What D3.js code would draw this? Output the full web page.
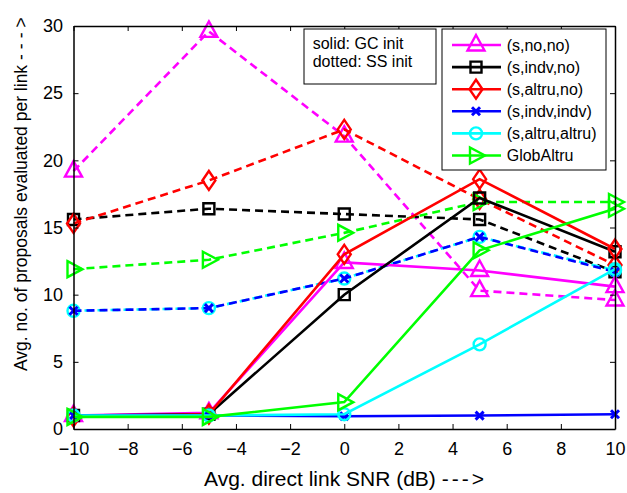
<!DOCTYPE html>
<html>
<head>
<meta charset="utf-8">
<script src="https://cdn.jsdelivr.net/npm/d3@7"></script>
<style>
  body { margin: 0; background: #fff; }
  text { font-family: "Liberation Sans", Arial, sans-serif; }
</style>
</head>
<body>
<div class="canvas"></div>
<script>
// data
const snr = [-10, -5, 0, 5, 10];
const xTicks = [-10, -8, -6, -4, -2, 0, 2, 4, 6, 8, 10];
const yTicks = [0, 5, 10, 15, 20, 25, 30];
const seriesNames = ['(s,no,no)', '(s,indv,no)', '(s,altru,no)', '(s,indv,indv)', '(s,altru,altru)', 'GlobAltru'];

// solid: GC init
const noNoGC = [1.0, 1.2, 12.4, 11.8, 10.6];
const indvNoGC = [1.0, 1.1, 10.0, 17.2, 13.2];
const altruNoGC = [0.9, 1.1, 13.0, 18.6, 13.4];
const indvIndvGC = [1.0, 1.0, 0.95, 1.0, 1.1];
const altruAltruGC = [1.0, 1.0, 1.1, 6.3, 11.9];
const globAltruGC = [0.9, 0.9, 2.0, 13.3, 16.4];

// dotted: SS init
const noNoSS = [19.2, 29.6, 21.8, 10.3, 9.6];
const indvNoSS = [15.6, 16.4, 16.0, 15.6, 11.7];
const altruNoSS = [15.3, 18.5, 22.3, 17.1, 12.2];
const indvIndvSS = [8.8, 9.0, 11.2, 14.3, 11.7];
const altruAltruSS = [8.8, 9.0, 11.2, 14.3, 11.8];
const globAltruSS = [11.9, 12.6, 14.6, 16.9, 16.9];

const gcSeries = [noNoGC, indvNoGC, altruNoGC, indvIndvGC, altruAltruGC, globAltruGC];
const ssSeries = [noNoSS, indvNoSS, altruNoSS, indvIndvSS, altruAltruSS, globAltruSS];

const colors = ['#ff00ff', '#000000', '#ff0000', '#0000ff', '#00ffff', '#00ff00'];
const markers = ['triangle', 'square', 'diamond', 'x', 'circle', 'right'];

const width = 627, height = 493;
const margin = {top: 26, right: 12, bottom: 64, left: 73.5};
const graphWidth = width - margin.left - margin.right;
const graphHeight = height - margin.top - margin.bottom;

const svg = d3.select('.canvas')
  .append('svg')
  .attr('width', width)
  .attr('height', height);

const graph = svg.append('g')
  .attr('transform', `translate(${margin.left},${margin.top})`);

const x = d3.scaleLinear().domain([-10, 10]).range([0, graphWidth]);
const y = d3.scaleLinear().domain([0, 30]).range([graphHeight, 0]);

// marker shapes
function markerPath(type) {
  switch (type) {
    case 'triangle': return 'M0,-10L8.5,5.5L-8.5,5.5Z';
    case 'square': return 'M-5.5,-5.5H5.5V5.5H-5.5Z';
    case 'diamond': return 'M0,-9.5L6.5,0L0,9.5L-6.5,0Z';
    case 'x': return 'M-4,-4L4,4M-4,4L4,-4';
    case 'circle': return 'M6,0A6,6 0 1,1 -6,0A6,6 0 1,1 6,0Z';
    case 'right': return 'M-6,-8L9,0L-6,8Z';
  }
}

const line = d3.line()
  .x((d, i) => x(snr[i]))
  .y(d => y(d));

function drawSeries(vals, i, dashed) {
  const g = graph.append('g');
  g.append('path')
    .datum(vals)
    .attr('d', line)
    .attr('fill', 'none')
    .attr('stroke', colors[i])
    .attr('stroke-width', 2.6)
    .attr('stroke-dasharray', dashed ? '8,5' : null)
    .attr('stroke-dashoffset', dashed && markers[i] === 'circle' ? 2 : 0);
  g.selectAll('path.mk')
    .data(vals)
    .enter()
    .append('path')
    .attr('class', 'mk')
    .attr('d', markerPath(markers[i]))
    .attr('transform', (d, j) => `translate(${x(snr[j])},${y(d)})`)
    .attr('fill', 'none')
    .attr('stroke', colors[i])
    .attr('stroke-width', markers[i] === 'x' ? 3 : 2.4);
}

// cyan dotted goes under the blue dotted one
[0, 1, 2, 4, 3, 5].forEach(i => drawSeries(ssSeries[i], i, true));
gcSeries.forEach((s, i) => drawSeries(s, i, false));

// axes, ticks pointing inward, box all round
const xAxis = d3.axisBottom(x).tickValues(xTicks).tickSizeInner(-5).tickSizeOuter(0).tickPadding(13);
const yAxis = d3.axisLeft(y).tickValues(yTicks).tickSizeInner(-5).tickSizeOuter(0).tickPadding(10.5);

graph.append('g')
  .attr('transform', `translate(0,${graphHeight})`)
  .call(xAxis);
graph.append('g').call(yAxis);

graph.append('g')
  .call(d3.axisTop(x).tickValues(xTicks).tickSizeInner(-5).tickSizeOuter(0).tickFormat(''));
graph.append('g')
  .attr('transform', `translate(${graphWidth},0)`)
  .call(d3.axisRight(y).tickValues(yTicks).tickSizeInner(-5).tickSizeOuter(0).tickFormat(''));

graph.selectAll('.domain').attr('stroke', '#000').attr('stroke-width', 1.5);
graph.selectAll('.tick line').attr('stroke', '#000').attr('stroke-width', 1);
graph.selectAll('.tick text')
  .attr('fill', '#000')
  .style('font-size', '18px')
  .style('font-family', '"Liberation Sans", Arial, sans-serif');

// axis titles
svg.append('text')
  .attr('x', 204)
  .attr('y', 486)
  .style('font-size', '21px')
  .text('Avg. direct link SNR (dB) ')
  .append('tspan')
  .style('letter-spacing', '3px')
  .text('--->');

svg.append('text')
  .attr('transform', 'translate(27,371) rotate(-90)')
  .style('font-size', '17.5px')
  .text('Avg. no. of proposals evaluated per link ')
  .append('tspan')
  .style('letter-spacing', '5px')
  .text('--->');

// init note box
const note = svg.append('g').attr('transform', 'translate(304,29)');
note.append('rect')
  .attr('width', 132).attr('height', 55)
  .attr('fill', '#fff').attr('stroke', '#000').attr('stroke-width', 1);
note.append('text').attr('x', 8.7).attr('y', 19.5).style('font-size', '16px').text('solid: GC init');
note.append('text').attr('x', 8.7).attr('y', 37.5).style('font-size', '16px').text('dotted: SS init');

// legend
const legend = svg.append('g').attr('transform', 'translate(442,29)');
legend.append('rect')
  .attr('width', 164).attr('height', 141)
  .attr('fill', '#fff').attr('stroke', '#000').attr('stroke-width', 1);

const items = legend.selectAll('g.item')
  .data(seriesNames)
  .enter()
  .append('g')
  .attr('class', 'item')
  .attr('transform', (d, i) => `translate(0,${16 + i * 22.1})`);

items.append('line')
  .attr('x1', 10).attr('x2', 59)
  .attr('stroke', (d, i) => colors[i])
  .attr('stroke-width', 2.6);
items.append('path')
  .attr('d', (d, i) => markerPath(markers[i]))
  .attr('transform', 'translate(34,0)')
  .attr('fill', 'none')
  .attr('stroke', (d, i) => colors[i])
  .attr('stroke-width', (d, i) => markers[i] === 'x' ? 3 : 2.4);
items.append('text')
  .attr('x', 64.7).attr('y', 5.8)
  .style('font-size', '16px')
  .text(d => d);
</script>
</body>
</html>
